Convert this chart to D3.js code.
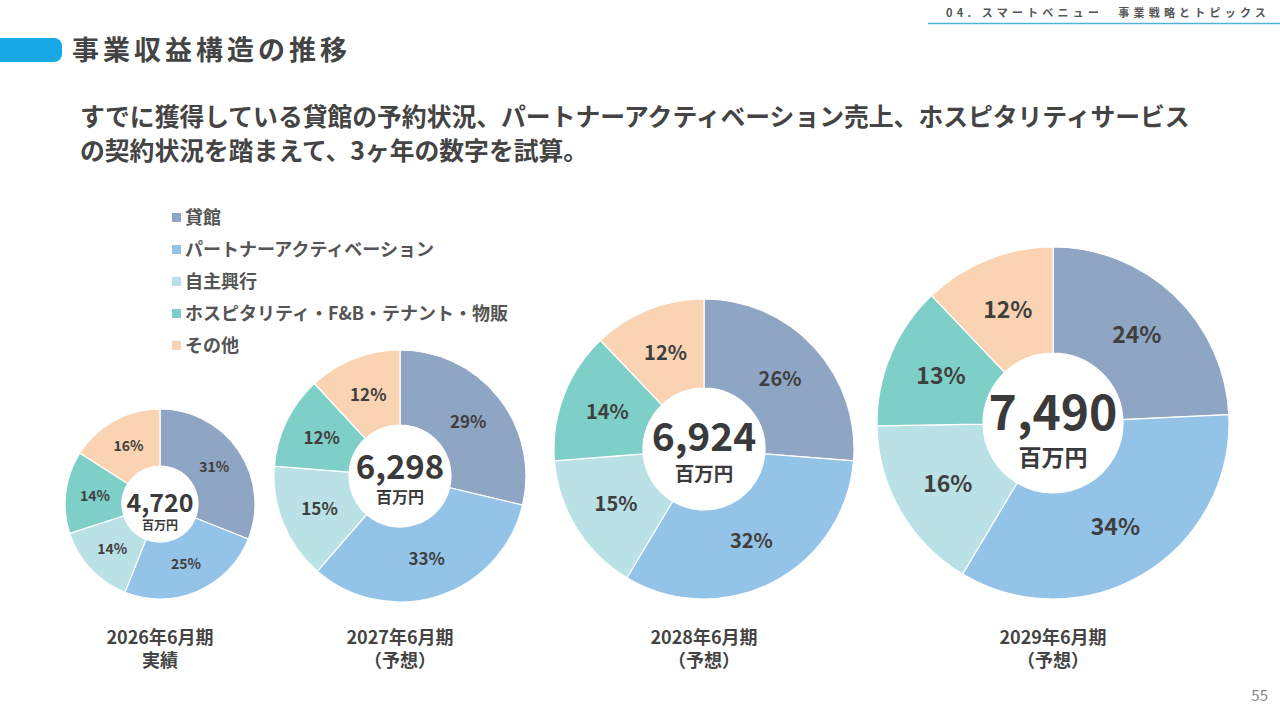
<!DOCTYPE html>
<html>
<head>
<meta charset="utf-8">
<script src="https://cdn.jsdelivr.net/npm/d3@7"></script>
<style>
  body { margin: 0; background: #fff; }
  svg { display: block; font-family: "Noto Sans CJK JP", "Noto Sans", sans-serif; }
</style>
</head>
<body>
<div id="chart"></div>
<script>
const width = 1280, height = 720;

// data
const categories = ["貸館", "パートナーアクティベーション", "自主興行", "ホスピタリティ・F&B・テナント・物販", "その他"];
const colors = ["#8fa5c4", "#94c3e8", "#b9e1e6", "#7fcfc9", "#fad3b3"];
const periods = ["2026年6月期", "2027年6月期", "2028年6月期", "2029年6月期"];
const periodNotes = ["実績", "（予想）", "（予想）", "（予想）"];
const totals = [4720, 6298, 6924, 7490];
const share2026 = [31, 25, 14, 14, 16];
const share2027 = [29, 33, 15, 12, 12];
const share2028 = [26, 32, 15, 14, 12];
const share2029 = [24, 34, 16, 13, 12];
const shares = [share2026, share2027, share2028, share2029];

// layout of each donut (number / unit baselines relative to centre)
const layout = [
    { cx: 160, cy: 504, r: 95, hole: 38, pct: 14, big: 25, unit: 12, nb: 8, ub: 26 },
    { cx: 400, cy: 476, r: 126, hole: 51, pct: 17, big: 33, unit: 16, nb: 3, ub: 27 },
    { cx: 704, cy: 449, r: 150, hole: 61, pct: 20, big: 39, unit: 19.5, nb: 2, ub: 32 },
    { cx: 1053, cy: 423, r: 176, hole: 70, pct: 23, big: 48, unit: 23, nb: 7, ub: 43 }
];

const svg = d3.select("#chart")
    .append("svg")
    .attr("width", width)
    .attr("height", height);

// header
svg.append("text")
    .attr("x", 1270)
    .attr("y", 17)
    .attr("text-anchor", "end")
    .attr("font-size", 11)
    .attr("font-weight", 700)
    .attr("letter-spacing", "4.2px")
    .attr("fill", "#555")
    .text("04. スマートベニュー　事業戦略とトピックス");
svg.append("line")
    .attr("x1", 928).attr("x2", 1280)
    .attr("y1", 23.5).attr("y2", 23.5)
    .attr("stroke", "#4fb5d6")
    .attr("stroke-width", 1.5);

svg.append("rect")
    .attr("x", -12).attr("y", 38)
    .attr("width", 74).attr("height", 24)
    .attr("rx", 8)
    .attr("fill", "#17a8e6");
svg.append("text")
    .attr("x", 72)
    .attr("y", 60)
    .attr("font-size", 27)
    .attr("font-weight", 700)
    .attr("letter-spacing", "4px")
    .attr("fill", "#444")
    .text("事業収益構造の推移");

const sub = svg.append("text")
    .attr("font-size", 24.8)
    .attr("font-weight", 700)
    .attr("fill", "#444");
sub.append("tspan").attr("x", 80).attr("y", 126)
    .text("すでに獲得している貸館の予約状況、パートナーアクティベーション売上、ホスピタリティサービス");
sub.append("tspan").attr("x", 80).attr("y", 160)
    .text("の契約状況を踏まえて、3ヶ年の数字を試算。");

// legend
const legend = svg.append("g")
    .selectAll("g")
    .data(categories)
    .join("g")
    .attr("transform", (d, i) => `translate(172,${218 + i * 32})`);
legend.append("rect")
    .attr("x", 0).attr("y", -5)
    .attr("width", 9).attr("height", 9)
    .attr("fill", (d, i) => colors[i]);
legend.append("text")
    .attr("x", 13)
    .attr("y", 0)
    .attr("dy", "0.35em")
    .attr("font-size", 18)
    .attr("font-weight", 700)
    .attr("fill", "#555")
    .text(d => d);

// donuts
const pie = d3.pie().sort(null).value(d => d);

shares.forEach((values, k) => {
    const L = layout[k];
    const g = svg.append("g").attr("transform", `translate(${L.cx},${L.cy})`);
    const arc = d3.arc().innerRadius(L.hole).outerRadius(L.r);
    const labelArc = d3.arc().innerRadius(L.r * 0.69).outerRadius(L.r * 0.69);
    const arcs = pie(values);

    g.selectAll("path")
        .data(arcs)
        .join("path")
        .attr("d", arc)
        .attr("fill", (d, i) => colors[i])
        .attr("stroke", "#fff")
        .attr("stroke-width", 1.2);

    g.selectAll("text.pct")
        .data(arcs)
        .join("text")
        .attr("class", "pct")
        .attr("transform", d => `translate(${labelArc.centroid(d)})`)
        .attr("text-anchor", "middle")
        .attr("dy", "0.35em")
        .attr("font-size", L.pct)
        .attr("font-weight", 700)
        .attr("fill", "#3f3f3f")
        .text(d => d.data + "%");

    g.append("text")
        .attr("text-anchor", "middle")
        .attr("y", L.nb)
        .attr("font-size", L.big)
        .attr("font-weight", 700)
        .attr("fill", "#3a3a3a")
        .text(d3.format(",")(totals[k]));
    g.append("text")
        .attr("text-anchor", "middle")
        .attr("y", L.ub)
        .attr("font-size", L.unit)
        .attr("font-weight", 700)
        .attr("fill", "#3a3a3a")
        .text("百万円");

    const cap = svg.append("text")
        .attr("text-anchor", "middle")
        .attr("font-size", 18)
        .attr("font-weight", 700)
        .attr("fill", "#444");
    cap.append("tspan").attr("x", L.cx).attr("y", 644).text(periods[k]);
    cap.append("tspan").attr("x", L.cx).attr("y", 667).text(periodNotes[k]);
});

// page number
svg.append("text")
    .attr("x", 1268)
    .attr("y", 701)
    .attr("text-anchor", "end")
    .attr("font-size", 15)
    .attr("fill", "#888")
    .text("55");
</script>
</body>
</html>
